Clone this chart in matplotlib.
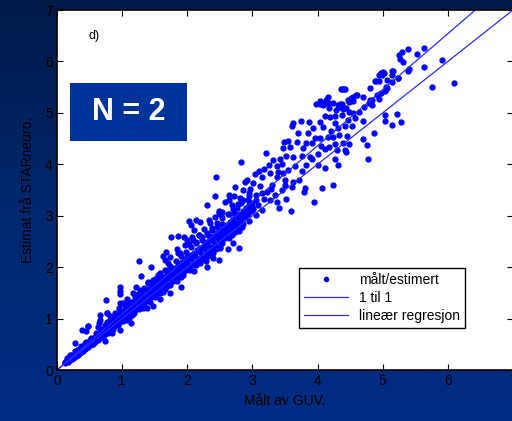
import numpy as np
import matplotlib
matplotlib.use("Agg")
import matplotlib.pyplot as plt
from matplotlib.colors import LinearSegmentedColormap
from matplotlib.patches import Rectangle

plt.rcParams['font.family'] = ['Liberation Sans', 'DejaVu Sans']

# measured (GUV) vs estimated (STARneuro) - dense core of the cloud
core = [
    (0.12, 0.13), (0.15, 0.17), (0.17, 0.16), (0.18, 0.21), (0.2, 0.19), (0.21, 0.24), (0.23, 0.22),
    (0.24, 0.27), (0.25, 0.24), (0.27, 0.3), (0.28, 0.26), (0.29, 0.33), (0.3, 0.29), (0.32, 0.35),
    (0.33, 0.31), (0.34, 0.37), (0.35, 0.34), (0.37, 0.4), (0.38, 0.36), (0.39, 0.43), (0.4, 0.39),
    (0.42, 0.45), (0.43, 0.41), (0.44, 0.48), (0.45, 0.43), (0.47, 0.5), (0.48, 0.46), (0.49, 0.53),
    (0.5, 0.48), (0.52, 0.56), (0.53, 0.5), (0.54, 0.58), (0.55, 0.53), (0.57, 0.61), (0.58, 0.55),
    (0.59, 0.64), (0.6, 0.58), (0.62, 0.66), (0.63, 0.6), (0.64, 0.7), (0.65, 0.63), (0.67, 0.72),
    (0.68, 0.65), (0.69, 0.75), (0.7, 0.68), (0.72, 0.78), (0.73, 0.7), (0.74, 0.8), (0.75, 0.73),
    (0.77, 0.84), (0.78, 0.75), (0.79, 0.87), (0.8, 0.78), (0.82, 0.9), (0.83, 0.8), (0.84, 0.93),
    (0.85, 0.83), (0.87, 0.96), (0.88, 0.85), (0.89, 0.99), (0.9, 0.88), (0.92, 1.02), (0.93, 0.9),
    (0.94, 1.05), (0.95, 0.93), (0.97, 1.08), (0.98, 0.95), (0.99, 1.1), (1.0, 0.98), (1.02, 1.13),
    (1.03, 1.0), (1.04, 1.16), (1.05, 1.03), (1.07, 1.19), (1.08, 1.05), (1.1, 1.22), (1.11, 1.08),
    (1.13, 1.25), (1.14, 1.1), (1.15, 1.28), (1.17, 1.14), (1.18, 1.31), (1.2, 1.17), (1.21, 1.34),
    (1.23, 1.2), (1.24, 1.37), (1.25, 1.23), (1.27, 1.4), (1.28, 1.26), (1.3, 1.44), (1.31, 1.29),
    (1.33, 1.47), (1.34, 1.32), (1.36, 1.5), (1.37, 1.35), (1.39, 1.54), (1.4, 1.38), (1.42, 1.57),
    (1.43, 1.41), (1.45, 1.6), (1.46, 1.44), (1.48, 1.64), (1.5, 1.47), (1.51, 1.67), (1.53, 1.5),
    (1.55, 1.7), (1.56, 1.53), (1.58, 1.74), (1.6, 1.57), (1.62, 1.77), (1.63, 1.6), (1.65, 1.81),
    (1.67, 1.63), (1.69, 1.85), (1.7, 1.66), (1.72, 1.89), (1.74, 1.7), (1.76, 1.93), (1.78, 1.74),
    (1.8, 1.97), (1.82, 1.78), (1.84, 2.01), (1.86, 1.82), (1.88, 2.06), (1.9, 1.86), (1.92, 2.1),
    (1.94, 1.9), (1.96, 2.14), (1.98, 1.95), (2.0, 2.19), (2.03, 2.0), (2.05, 2.23), (2.08, 2.05),
    (2.1, 2.28), (2.13, 2.1), (2.15, 2.33), (2.18, 2.16), (2.2, 2.38), (2.23, 2.21), (2.25, 2.43),
    (2.28, 2.27), (2.3, 2.49), (2.33, 2.32), (2.35, 2.55), (2.38, 2.38), (2.4, 2.6), (2.43, 2.44),
    (2.45, 2.66), (2.48, 2.5), (2.5, 2.71), (2.53, 2.56), (2.55, 2.77), (2.58, 2.62), (2.6, 2.82),
    (2.63, 2.68), (2.65, 2.88), (2.68, 2.74), (2.7, 2.93), (2.73, 2.8), (2.75, 2.99), (2.78, 2.86),
    (2.8, 3.04), (2.83, 2.92), (2.85, 3.1), (2.88, 2.98), (2.9, 3.15), (2.93, 3.04), (2.95, 3.2),
    (2.98, 3.1), (3.0, 3.25),
    (0.13, 0.15), (0.16, 0.19), (0.19, 0.22), (0.22, 0.25), (0.26, 0.28), (0.29, 0.31), (0.31, 0.34),
    (0.36, 0.38), (0.39, 0.41), (0.41, 0.44), (0.46, 0.49), (0.49, 0.51), (0.51, 0.54), (0.56, 0.58),
    (0.59, 0.62), (0.61, 0.64), (0.66, 0.69), (0.69, 0.72), (0.71, 0.75), (0.76, 0.8), (0.79, 0.82),
    (0.81, 0.85), (0.86, 0.9), (0.89, 0.93), (0.91, 0.96), (0.96, 1.0), (0.99, 1.04), (1.01, 1.06),
    (1.06, 1.11), (1.09, 1.14), (1.12, 1.17), (1.16, 1.22), (1.19, 1.25), (1.22, 1.28), (1.26, 1.32),
    (1.29, 1.36), (1.32, 1.39), (1.35, 1.43), (1.38, 1.46), (1.41, 1.49), (1.44, 1.52), (1.47, 1.56),
    (1.52, 1.6), (1.57, 1.65), (1.61, 1.69), (1.66, 1.74), (1.71, 1.79), (1.75, 1.84), (1.81, 1.9),
    (1.87, 1.95), (1.93, 2.02), (1.99, 2.08), (2.06, 2.15), (2.12, 2.22), (2.19, 2.3), (2.26, 2.37),
    (2.32, 2.44), (2.39, 2.51), (2.46, 2.58), (2.52, 2.65), (2.59, 2.72), (2.66, 2.8), (2.72, 2.87),
    (2.79, 2.95), (2.86, 3.02), (2.92, 3.09), (2.99, 3.17),
    (0.22, 0.3), (0.3, 0.38), (0.37, 0.46), (0.45, 0.55), (0.52, 0.62), (0.6, 0.71), (0.67, 0.8),
    (0.74, 0.88), (0.82, 0.97), (0.9, 1.07), (0.97, 1.15), (1.05, 1.24), (1.12, 1.32), (1.2, 1.41),
    (1.28, 1.5), (1.35, 1.58), (1.43, 1.67), (1.5, 1.76), (1.58, 1.84), (1.66, 1.94), (1.74, 2.03),
    (1.82, 2.12), (1.9, 2.21), (1.98, 2.3), (2.06, 2.39), (2.14, 2.48), (2.22, 2.58), (2.3, 2.67),
    (2.38, 2.76), (2.46, 2.86), (2.54, 2.95), (2.62, 3.04), (2.7, 3.13), (2.78, 3.22), (2.86, 3.3),
    (2.94, 3.38),
    (0.25, 0.23), (0.33, 0.3), (0.4, 0.37), (0.48, 0.44), (0.55, 0.51), (0.63, 0.58), (0.7, 0.65),
    (0.78, 0.72), (0.86, 0.8), (0.94, 0.87), (1.02, 0.95), (1.1, 1.02), (1.18, 1.1), (1.26, 1.18),
    (1.34, 1.25), (1.42, 1.33), (1.5, 1.41), (1.58, 1.49), (1.66, 1.57), (1.74, 1.65), (1.84, 1.74),
    (1.94, 1.84), (2.04, 1.94), (2.14, 2.05), (2.24, 2.15), (2.34, 2.26), (2.44, 2.36), (2.54, 2.47),
    (2.64, 2.57), (2.74, 2.68), (2.84, 2.78), (2.94, 2.89),
    (0.95, 1.2), (1.08, 1.33), (1.25, 1.48), (1.4, 1.72), (1.55, 1.85), (1.7, 2.08), (1.86, 2.28),
    (2.02, 2.45), (2.18, 2.62), (2.35, 2.85), (2.52, 3.02), (2.68, 3.2), (1.15, 1.06), (1.32, 1.2),
    (1.62, 1.52), (1.9, 1.8), (2.2, 2.09), (2.5, 2.4), (2.8, 2.7), (3.05, 3.02), (3.15, 3.12),
]

# scattered points
spread = [
    (5.91, 6.03), (6.09, 5.58), (5.64, 5.89), (5.75, 5.5), (5.64, 6.26), (5.53, 6.14), (5.39, 6.24),
    (5.3, 6.18), (5.25, 6.12), (5.27, 6.05), (5.31, 5.99), (5.39, 5.82), (5.4, 5.86), (5.15, 5.81),
    (5.01, 5.8), (4.97, 5.78), (4.99, 5.74), (5.23, 5.67), (5.14, 5.6), (5.06, 5.63), (4.89, 5.62),
    (4.8, 5.49), (5.07, 5.49), (5.03, 5.43), (4.92, 5.34), (4.94, 5.27), (4.8, 5.25), (4.83, 5.15),
    (4.63, 5.02), (4.7, 4.84), (4.87, 4.6), (4.76, 4.37), (4.7, 4.5), (4.77, 4.11), (4.49, 4.4),
    (5.04, 4.95), (5.03, 4.85), (5.15, 4.77), (5.22, 4.97), (5.28, 4.82), (4.36, 5.47), (4.41, 5.46),
    (4.54, 5.3), (4.59, 5.34), (4.47, 5.25), (4.16, 5.3), (4.04, 5.24), (3.98, 5.17), (4.09, 5.15),
    (4.17, 5.09), (4.29, 5.06), (4.34, 5.17), (4.38, 5.12), (4.44, 5.09), (4.49, 5.02), (4.55, 4.99),
    (4.37, 4.95), (4.27, 4.93), (4.19, 4.91), (4.12, 4.94), (4.03, 4.82), (4.26, 4.81), (4.47, 4.86),
    (4.58, 4.9), (4.42, 4.75), (4.53, 4.75), (4.31, 4.7), (4.2, 4.65), (4.09, 4.73), (3.93, 4.71),
    (3.87, 4.82), (3.75, 4.85), (3.62, 4.8), (3.61, 4.75), (3.85, 4.6), (3.96, 4.51), (4.03, 4.52),
    (4.16, 4.53), (4.24, 4.53), (4.33, 4.57), (4.45, 4.55), (4.39, 4.41), (4.27, 4.4), (4.17, 4.33),
    (4.06, 4.36), (3.92, 4.42), (3.83, 4.41), (3.78, 4.31), (3.69, 4.44), (3.58, 4.33), (3.48, 4.43),
    (3.47, 4.31), (3.63, 4.15), (3.52, 4.17), (3.43, 4.1), (3.76, 4.16), (3.88, 4.15), (4.0, 4.2),
    (4.12, 4.29), (4.3, 4.27), (4.44, 4.23), (4.42, 4.28), (4.26, 4.1), (4.32, 3.99), (4.12, 3.92),
    (4.0, 3.99), (3.91, 4.1), (3.82, 3.98), (3.76, 3.87), (3.65, 3.96), (3.55, 3.89), (3.47, 3.83),
    (3.38, 3.96), (3.21, 4.22), (3.32, 4.09), (3.25, 3.98), (3.18, 3.91), (3.1, 3.87), (3.04, 3.81),
    (3.15, 3.76), (3.27, 3.83), (3.37, 3.76), (3.5, 3.7), (3.63, 3.66), (3.71, 3.7), (3.8, 3.53),
    (3.79, 3.47), (4.23, 3.59), (4.07, 3.53), (3.94, 3.26), (3.59, 3.09), (3.51, 3.32), (3.41, 3.15),
    (2.83, 4.05), (2.44, 3.76), (2.91, 3.7), (2.88, 3.65), (3.01, 3.63), (3.11, 3.57), (2.97, 3.52),
    (2.86, 3.5), (2.74, 3.55), (2.64, 3.41), (2.72, 3.39), (2.81, 3.34), (2.93, 3.31), (3.06, 3.4),
    (3.22, 3.47), (3.29, 3.52), (3.17, 3.33), (3.27, 3.31), (3.37, 3.26), (3.09, 3.21), (3.01, 3.13),
    (2.94, 3.16), (2.82, 3.24), (2.76, 3.15), (2.72, 3.05), (2.64, 3.04), (2.53, 3.08), (2.48, 3.1),
    (2.58, 3.27), (2.64, 3.31), (2.31, 3.21), (2.43, 3.39), (2.49, 3.05), (2.42, 2.98), (2.33, 2.92),
    (2.19, 2.87), (2.14, 2.92), (2.03, 2.89), (2.05, 2.82), (2.86, 2.83), (2.8, 2.74), (2.7, 2.69),
    (2.62, 2.72), (2.54, 2.83), (2.45, 2.78), (2.38, 2.72), (2.32, 2.63), (2.25, 2.75), (2.18, 2.63),
    (2.1, 2.72), (2.22, 2.53), (2.14, 2.46), (2.07, 2.59), (1.99, 2.52), (1.97, 2.43), (1.89, 2.27),
    (1.84, 2.35), (1.75, 2.59), (1.85, 2.61), (1.95, 2.58), (2.09, 2.53), (2.5, 2.55), (2.58, 2.56),
    (2.68, 2.63), (2.8, 2.38), (2.7, 2.46), (2.62, 2.35), (2.5, 2.37), (2.4, 2.4), (2.3, 2.44),
    (2.4, 2.27), (2.32, 2.22), (2.48, 2.13), (2.4, 2.17), (2.29, 2.11), (2.19, 2.16), (2.11, 2.08),
    (2.04, 2.2), (1.96, 2.11), (1.89, 2.06), (2.1, 1.93), (2.3, 2.01), (2.22, 2.19), (1.68, 2.3),
    (1.73, 2.2), (1.66, 2.14), (1.63, 2.22), (1.45, 2.01), (1.26, 2.12), (1.73, 2.01), (1.81, 1.99),
    (1.81, 1.84), (1.91, 1.61), (1.68, 1.82), (1.58, 1.88), (1.53, 1.78), (1.71, 1.88), (1.76, 1.75),
    (1.68, 1.62), (1.73, 1.49), (1.56, 1.62), (1.47, 1.75), (1.48, 1.56), (1.4, 1.69), (1.33, 1.59),
    (1.27, 1.56), (1.37, 1.49), (1.43, 1.41), (1.58, 1.39), (1.55, 1.49), (1.29, 1.82), (1.17, 1.49),
    (1.21, 1.62), (0.96, 1.61), (0.96, 1.54), (0.96, 1.48), (0.96, 1.3), (0.75, 1.37), (1.07, 1.39),
    (1.02, 1.3), (1.15, 1.33), (1.22, 1.36), (1.32, 1.33), (1.48, 1.25), (1.38, 1.2), (1.27, 1.2),
    (1.17, 1.17), (1.09, 1.1), (0.89, 1.1), (0.76, 1.1), (0.66, 1.07), (1.13, 0.92), (1.07, 0.97),
    (0.97, 1.04), (0.86, 0.97), (0.76, 0.94), (0.66, 0.97), (0.63, 0.84), (0.48, 0.86), (0.38, 0.77),
    (0.28, 0.52), (0.74, 0.57), (0.84, 0.71), (0.97, 0.78), (0.86, 0.81), (0.76, 0.78), (0.71, 0.68),
    (0.58, 0.65), (0.51, 0.58), (0.43, 0.52), (0.35, 0.42), (0.28, 0.36), (0.2, 0.29), (0.15, 0.23),
    (0.64, 0.92), (0.48, 0.86), (0.45, 0.76), (0.77, 1.11), (0.81, 1.05),
    (4.98, 5.77), (5.02, 5.78), (4.95, 5.73), (5.16, 5.82), (5.15, 5.73), (5.24, 5.67), (4.88, 5.61),
    (4.94, 5.61), (5.05, 5.51), (4.98, 5.38), (4.91, 5.35), (4.69, 5.3), (4.83, 5.25), (4.79, 5.19),
    (4.72, 5.12), (4.38, 5.47), (4.42, 5.47), (4.6, 5.35), (4.52, 5.28), (4.48, 5.22), (4.54, 5.23),
    (4.03, 5.18), (4.13, 5.25), (4.11, 5.19), (4.18, 5.2), (4.24, 5.19), (4.31, 5.16), (4.38, 5.18),
    (4.34, 5.12), (4.39, 5.07), (3.55, 4.45), (3.7, 4.6), (3.45, 4.0), (3.3, 3.6), (3.6, 3.55),
    (3.45, 3.5), (3.15, 3.45), (3.35, 3.4), (3.5, 3.6), (3.05, 3.3), (2.95, 3.45), (3.4, 3.85),
]

xs = [p[0] for p in core + spread]
ys = [p[1] for p in core + spread]

one_to_one = [0, 7]
reg_slope = 1.09
reg_x = [0, 6.42]

fig = plt.figure(figsize=(5.12, 4.21), dpi=100)

# gradient backdrop
bg = fig.add_axes([0, 0, 1, 1], zorder=-1)
cmap = LinearSegmentedColormap.from_list('bg', ['#011a4a', '#00286f', '#002c84'])
grad = np.linspace(0, 1, 256).reshape(-1, 1)
bg.imshow(grad, aspect='auto', cmap=cmap, extent=[0, 1, 0, 1], origin='upper')
bg.axis('off')

ax = fig.add_axes([57 / 512, 51 / 421, 456 / 512, 360 / 421])
ax.set_facecolor('white')

pts, = ax.plot(xs, ys, '.', color='#0000ff', markersize=7, label='målt/estimert')
l1, = ax.plot(one_to_one, one_to_one, '-', color='#2a2aff', lw=0.9, label='1 til 1')
l2, = ax.plot(reg_x, [reg_slope * v for v in reg_x], '-', color='#2a2aff', lw=0.9,
              label='lineær regresjon')

ax.set_xlim(0, 7)
ax.set_ylim(0, 7)
ax.set_xticks(range(0, 8))
ax.set_yticks(range(0, 8))
ax.tick_params(direction='in', length=4, width=0.8, labelsize=10, colors='black',
               top=True, right=True, pad=3)
for s in ax.spines.values():
    s.set_linewidth(1.2)
    s.set_color('black')

ax.set_xlabel('Målt av GUV.', fontsize=10, color='black', labelpad=4)
ax.set_ylabel('Estimat frå STARneuro.', fontsize=10, color='black', labelpad=7)

ax.text(0.07, 0.928, 'd)', transform=ax.transAxes, fontsize=9, va='center', ha='left')

ax.add_patch(Rectangle((0.0285, 0.636), 0.2566, 0.161, transform=ax.transAxes,
                       facecolor='#003399', edgecolor='none', zorder=5))
ax.text(0.158, 0.717, 'N = 2', transform=ax.transAxes, fontsize=22, fontweight='bold',
        color='white', ha='center', va='center', zorder=6)

leg = ax.legend(handles=[pts, l1, l2], loc='lower right', bbox_to_anchor=(0.895, 0.117),
                borderaxespad=0, fancybox=False, fontsize=10, handlelength=3.2,
                framealpha=1, edgecolor='black', borderpad=0.35, labelspacing=0.3)
leg.get_frame().set_linewidth(1.0)
leg.legend_handles[0].set_markersize(6)

fig.savefig('out.png', dpi=100)
